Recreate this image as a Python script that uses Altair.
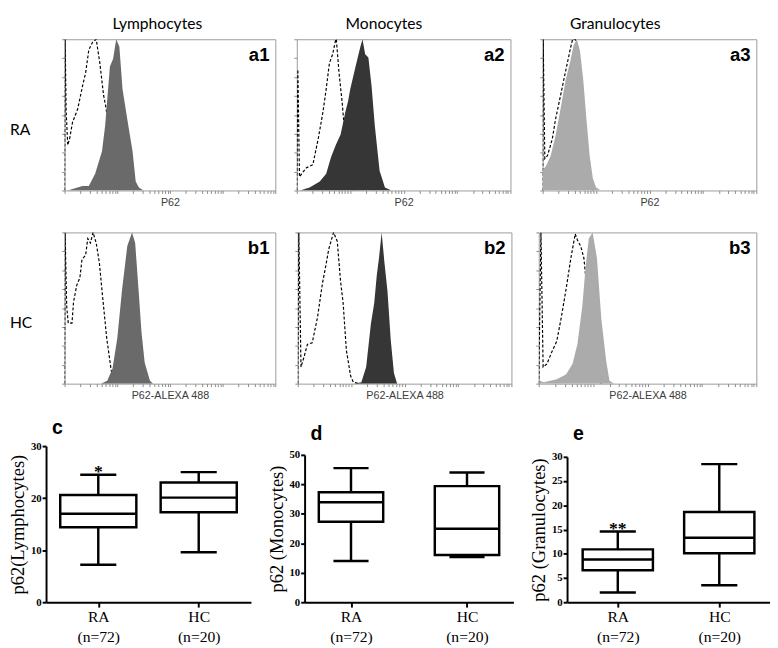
import altair as alt
import pandas as pd

# ---------------- flow-cytometry histograms ----------------
# x: position in log decades (0-4 across the plot), y: relative cell count (0-1)
# dashed = isotype control, filled = P62 staining
a1_iso_x = [0, 0.01, 0.03, 0.06, 0.10, 0.15, 0.25, 0.34, 0.40, 0.46, 0.53, 0.60, 0.67, 0.74, 0.79, 0.86, 0.95, 1.04]
a1_iso_y = [0, 1.0, 0.52, 0.30, 0.35, 0.45, 0.54, 0.69, 0.78, 0.93, 0.98, 1.0, 0.84, 0.63, 0.54, 0.26, 0.04, 0]
a1_p62_x = [0.06, 0.15, 0.34, 0.46, 0.58, 0.71, 0.77, 0.86, 0.92, 0.98, 1.04, 1.10, 1.20, 1.29, 1.35, 1.41, 1.50]
a1_p62_y = [0, 0.01, 0.03, 0.03, 0.11, 0.26, 0.43, 0.82, 0.87, 1.0, 0.95, 0.67, 0.45, 0.26, 0.06, 0.02, 0]

a2_iso_x = [0, 0.02, 0.05, 0.09, 0.18, 0.30, 0.40, 0.49, 0.55, 0.61, 0.67, 0.73, 0.74, 0.79, 0.85, 0.88, 0.98, 1.07]
a2_iso_y = [0, 0.80, 0.09, 0.11, 0.15, 0.17, 0.34, 0.52, 0.67, 0.84, 0.90, 1.0, 1.0, 0.78, 0.58, 0.45, 0.13, 0]
a2_p62_x = [0.06, 0.24, 0.43, 0.55, 0.64, 0.73, 0.82, 0.91, 0.96, 1.00, 1.10, 1.19, 1.23, 1.28, 1.34, 1.40, 1.46, 1.55, 1.65, 1.77]
a2_p62_y = [0, 0.02, 0.06, 0.11, 0.22, 0.30, 0.37, 0.52, 0.59, 0.67, 0.82, 0.95, 1.0, 0.90, 0.88, 0.69, 0.43, 0.13, 0.02, 0]

a3_iso_x = [0, 0.01, 0.04, 0.09, 0.18, 0.24, 0.33, 0.43, 0.52, 0.56, 0.61, 0.70, 0.85, 0.94]
a3_iso_y = [0, 1.0, 0.21, 0.23, 0.34, 0.47, 0.62, 0.79, 0.94, 1.0, 1.0, 0.83, 0.12, 0]
a3_p62_x = [0, 0.01, 0.06, 0.15, 0.24, 0.33, 0.43, 0.52, 0.58, 0.64, 0.70, 0.76, 0.82, 0.88, 0.94, 1.00, 1.09]
a3_p62_y = [0, 0.14, 0.16, 0.23, 0.36, 0.53, 0.73, 0.86, 0.96, 1.0, 0.92, 0.73, 0.47, 0.23, 0.08, 0.02, 0]

b1_iso_x = [0, 0.01, 0.04, 0.07, 0.14, 0.17, 0.23, 0.29, 0.33, 0.40, 0.44, 0.49, 0.54, 0.60, 0.66, 0.72, 0.80, 0.88, 0.93]
b1_iso_y = [0, 1.0, 0.51, 0.40, 0.40, 0.54, 0.65, 0.70, 0.82, 0.85, 0.96, 0.93, 1.0, 0.93, 0.80, 0.58, 0.30, 0.10, 0]
b1_p62_x = [0.69, 0.81, 0.91, 1.00, 1.09, 1.19, 1.28, 1.34, 1.40, 1.46, 1.52, 1.62, 1.68]
b1_p62_y = [0, 0.02, 0.10, 0.30, 0.62, 0.91, 1.0, 0.93, 0.64, 0.34, 0.14, 0.02, 0]

b2_iso_x = [0, 0.02, 0.06, 0.12, 0.18, 0.27, 0.37, 0.46, 0.52, 0.58, 0.67, 0.74, 0.80, 0.85, 0.91, 0.99, 1.04, 1.16]
b2_iso_y = [0, 1.0, 0.11, 0.18, 0.26, 0.27, 0.44, 0.66, 0.77, 0.89, 1.0, 0.94, 0.68, 0.53, 0.22, 0.05, 0.01, 0]
b2_p62_x = [1.04, 1.19, 1.28, 1.37, 1.43, 1.48, 1.52, 1.57, 1.62, 1.68, 1.74, 1.80, 1.86]
b2_p62_y = [0, 0.01, 0.11, 0.40, 0.53, 0.72, 0.83, 1.0, 0.81, 0.61, 0.29, 0.07, 0]

b3_iso_x = [0, 0.04, 0.08, 0.15, 0.24, 0.33, 0.41, 0.50, 0.59, 0.67, 0.71, 0.77, 0.83, 0.87, 0.98, 1.09, 1.15]
b3_iso_y = [0, 1.0, 0.11, 0.13, 0.21, 0.28, 0.43, 0.62, 0.83, 0.99, 0.95, 0.91, 0.83, 0.68, 0.30, 0.04, 0]
b3_p62_x = [0, 0.02, 0.09, 0.33, 0.50, 0.62, 0.71, 0.80, 0.86, 0.92, 0.99, 1.07, 1.15, 1.24, 1.30, 1.39]
b3_p62_y = [0, 0.02, 0.01, 0.03, 0.06, 0.13, 0.26, 0.51, 0.77, 0.96, 1.0, 0.83, 0.43, 0.15, 0.02, 0]

# ---------------- box plots: min, Q1, median, Q3, max ----------------
groups = ["RA|(n=72)", "HC|(n=20)"]
c_min = [7.2, 9.6]
c_q1 = [14.4, 17.3]
c_med = [17.0, 20.1]
c_q3 = [20.6, 23.0]
c_max = [24.5, 25.0]

d_min = [14.0, 15.3]
d_q1 = [27.3, 16.0]
d_med = [33.9, 24.9]
d_q3 = [37.3, 39.4]
d_max = [45.5, 44.0]

e_min = [2.0, 3.5]
e_q1 = [6.6, 10.1]
e_med = [8.8, 13.3]
e_q3 = [10.9, 18.6]
e_max = [14.6, 28.5]

c_star = ["*"]
c_star_y = [25.0]
e_star = ["**"]
e_star_y = [15.1]

SANS = "Liberation Sans"
SERIF = "Liberation Serif"
HUM = "Lato"

MINOR = [0.0, 0.301, 0.477, 0.602, 0.699, 0.778, 0.845, 0.903, 0.954]
XTICKS = [round(dd + m, 3) for dd in range(4) for m in MINOR] + [4.0]
YTICKS = [0, 0.125, 0.25, 0.375, 0.5, 0.625, 0.75, 0.875, 1.0]


def hist_panel(iso_x, iso_y, p_x, p_y, fill, tag, xtitle, w, h,
               col_title=None, title_dx=0):
    iso = pd.DataFrame({"x": iso_x, "y": iso_y})
    pos = pd.DataFrame({"x": p_x, "y": p_y})
    xs = alt.Scale(domain=[0, 4], nice=False, zero=False)
    ys = alt.Scale(domain=[0, 1], nice=False, zero=False)
    x_axis = alt.Axis(values=XTICKS, labels=False, ticks=True, tickSize=3,
                      tickColor="#8a8a8a", tickWidth=1, domain=False, grid=False,
                      title=xtitle, titleFont=SANS, titleFontSize=11,
                      titleFontWeight="normal", titleColor="#3c3c3c", titlePadding=3)
    y_axis = alt.Axis(values=YTICKS, labels=False, ticks=True, tickSize=3,
                      tickColor="#8a8a8a", tickWidth=1, domain=False, grid=False,
                      title=None)
    xe = alt.X("x:Q", scale=xs, axis=x_axis)
    ye = alt.Y("y:Q", scale=ys, axis=y_axis)
    line = alt.Chart(iso).mark_line(color="black", strokeDash=[3, 2], strokeWidth=1.2,
                                    clip=True).encode(x=xe, y=ye)
    area = alt.Chart(pos).mark_area(color=fill, opacity=1, clip=True).encode(x=xe, y=ye)
    lab = alt.Chart(pd.DataFrame({"t": [tag]})).mark_text(
        align="right", baseline="alphabetic", font=SANS, fontWeight="bold",
        fontSize=19, color="black").encode(
        x=alt.value(w - 6), y=alt.value(22), text="t:N")
    layers = [line, area, lab]
    if col_title:
        layers.append(alt.Chart(pd.DataFrame({"t": [col_title]})).mark_text(
            align="left", baseline="alphabetic", font=HUM, fontSize=16,
            color="black").encode(x=alt.value(title_dx), y=alt.value(-10), text="t:N"))
    return alt.layer(*layers).properties(
        width=w, height=h, view=alt.ViewBackground(stroke="#9a9a9a", strokeWidth=1))


def row_label(text, h, left):
    return alt.Chart(pd.DataFrame({"t": [text]})).mark_text(
        align="left", baseline="middle", font=HUM, fontSize=16, color="black").encode(
        x=alt.value(-left), y=alt.value(round(h * 0.6)), text="t:N").properties(
        width=1, height=h, view=alt.ViewBackground(strokeWidth=0, strokeOpacity=0))


def box_panel(mins, q1s, meds, q3s, maxs, tag, ytitle, ymax, yvals, w, h, top_gap,
              box_w, cap_w, pad, star=None, star_y=None):
    df = pd.DataFrame({"g": groups, "lo": mins, "q1": q1s, "med": meds,
                       "q3": q3s, "hi": maxs})
    xs = alt.Scale(type="point", domain=groups, padding=pad)
    ys = alt.Scale(domain=[0, ymax], range=[h, top_gap], nice=False, zero=True)
    x_axis = alt.Axis(labelExpr="split(datum.label, '|')", labelAngle=0,
                      labelFont=SERIF, labelFontSize=16, labelColor="black",
                      labelLineHeight=20, labelPadding=2, tickSize=5,
                      tickWidth=2, tickColor="black", domainWidth=2,
                      domainColor="black", grid=False, title=None)
    y_axis = alt.Axis(values=yvals, title=ytitle, titleFont=SERIF, titleFontSize=19,
                      titleFontWeight="normal", titleColor="black", titlePadding=3,
                      labelFont=SERIF, labelFontWeight="bold", labelFontSize=11,
                      labelColor="black", labelPadding=1, labelOverlap=False,
                      labelFlush=False, tickSize=4, tickWidth=2,
                      tickColor="black", domainColor="black", domainWidth=2, grid=False)
    xe = alt.X("g:N", scale=xs, sort=groups, axis=x_axis)

    def ye(f):
        return alt.Y(f, type="quantitative", scale=ys, axis=y_axis)

    base = alt.Chart(df)
    whisk = base.mark_rule(color="black", strokeWidth=2.5).encode(
        x=xe, y=ye("lo"), y2="hi:Q")
    box = base.mark_bar(size=box_w, fill="white", stroke="black", strokeWidth=2.5).encode(
        x=xe, y=ye("q1"), y2="q3:Q")
    med = base.mark_tick(size=box_w, thickness=2.5, color="black", opacity=1).encode(
        x=xe, y=ye("med"))
    cap_lo = base.mark_tick(size=cap_w, thickness=2.5, color="black", opacity=1).encode(
        x=xe, y=ye("lo"))
    cap_hi = base.mark_tick(size=cap_w, thickness=2.5, color="black", opacity=1).encode(
        x=xe, y=ye("hi"))
    layers = [whisk, box, med, cap_lo, cap_hi]
    if star:
        sdf = pd.DataFrame({"g": groups[:len(star)], "y": star_y, "t": star})
        layers.append(alt.Chart(sdf).mark_text(font=SERIF, fontWeight="bold", fontSize=18,
                                               baseline="middle", color="black").encode(
            x=xe, y=ye("y"), text="t:N"))
    return alt.layer(*layers).properties(
        width=w, height=h, view=alt.ViewBackground(strokeWidth=0, strokeOpacity=0),
        title=alt.TitleParams(tag, anchor="start", frame="group", dx=6, font=SANS,
                              fontSize=20, fontWeight="bold", color="black", offset=2))


GREY1 = "#6a6a6a"
GREY2 = "#363636"
GREY3 = "#ababab"
HA = 155
LBAND = 37

a1 = hist_panel(a1_iso_x, a1_iso_y, a1_p62_x, a1_p62_y, GREY1, "a1", "P62", 216, HA,
                "Lymphocytes", 49)
a2 = hist_panel(a2_iso_x, a2_iso_y, a2_p62_x, a2_p62_y, GREY2, "a2", "P62", 219, HA,
                "Monocytes", 50)
a3 = hist_panel(a3_iso_x, a3_iso_y, a3_p62_x, a3_p62_y, GREY3, "a3", "P62", 219, HA,
                "Granulocytes", 28)
b1 = hist_panel(b1_iso_x, b1_iso_y, b1_p62_x, b1_p62_y, GREY1, "b1", "P62-ALEXA 488",
                216, HA)
b2 = hist_panel(b2_iso_x, b2_iso_y, b2_p62_x, b2_p62_y, GREY2, "b2", "P62-ALEXA 488",
                219, HA)
b3 = hist_panel(b3_iso_x, b3_iso_y, b3_p62_x, b3_p62_y, GREY3, "b3", "P62-ALEXA 488",
                223, HA)

HC_ = 160
c = box_panel(c_min, c_q1, c_med, c_q3, c_max, "c", "p62(Lymphocytes)", 30,
              [0, 10, 20, 30], 210, HC_, 0, 78, 37, 0.52, c_star, c_star_y)
d = box_panel(d_min, d_q1, d_med, d_q3, d_max, "d", "p62 (Monocytes)", 50,
              [0, 10, 20, 30, 40, 50], 214, HC_, 9, 66, 36, 0.4)
e = box_panel(e_min, e_q1, e_med, e_q3, e_max, "e", "p62 (Granulocytes)", 30,
              [0, 5, 10, 15, 20, 25, 30], 208, HC_, 11, 72, 37, 0.5, e_star, e_star_y)

rowA = alt.hconcat(alt.hconcat(alt.hconcat(row_label("RA", HA, LBAND), a1, spacing=14),
                               a2, spacing=17), a3, spacing=28)
rowB = alt.hconcat(alt.hconcat(alt.hconcat(row_label("HC", HA, LBAND), b1, spacing=14),
                               b2, spacing=18), b3, spacing=23)
rowC = alt.hconcat(alt.hconcat(c, d, spacing=17), e, spacing=17)

top = alt.vconcat(rowA, rowB, spacing=24)
chart = alt.vconcat(top, rowC, spacing=18).properties(
    padding=0).configure_view(strokeWidth=0).configure(font=SANS)

chart.save("out.html", embed_options={"renderer": "svg", "actions": False})
